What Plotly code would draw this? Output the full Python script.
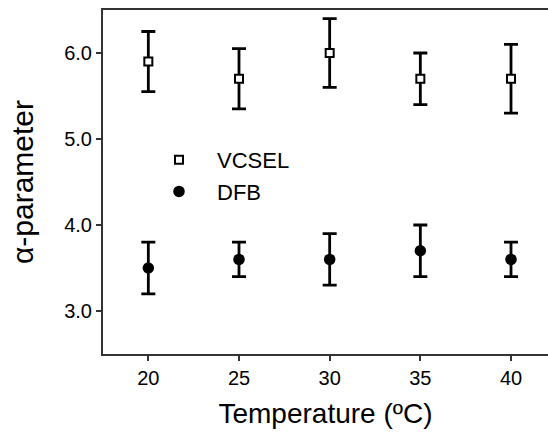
import plotly.graph_objects as go

temps = [20, 25, 30, 35, 40]
vcsel = [5.9, 5.7, 6.0, 5.7, 5.7]
vcsel_hi = [6.25, 6.05, 6.4, 6.0, 6.1]
vcsel_lo = [5.55, 5.35, 5.6, 5.4, 5.3]
dfb = [3.5, 3.6, 3.6, 3.7, 3.6]
dfb_hi = [3.8, 3.8, 3.9, 4.0, 3.8]
dfb_lo = [3.2, 3.4, 3.3, 3.4, 3.4]

FONT = "Liberation Sans, Arial, sans-serif"

def err(v, hi, lo):
    return dict(type="data", symmetric=False,
                array=[h - x for h, x in zip(hi, v)],
                arrayminus=[x - l for l, x in zip(lo, v)],
                color="black", thickness=2.8, width=7)

fig = go.Figure()
fig.add_trace(go.Scatter(
    x=temps, y=vcsel, mode="markers", name="VCSEL",
    marker=dict(symbol="square", size=8, color="white",
                line=dict(color="black", width=2)),
    error_y=err(vcsel, vcsel_hi, vcsel_lo)))
fig.add_trace(go.Scatter(
    x=temps, y=dfb, mode="markers", name="DFB",
    marker=dict(symbol="circle", size=11.5, color="black",
                line=dict(color="black", width=0)),
    error_y=err(dfb, dfb_hi, dfb_lo)))

fig.update_layout(
    width=548, height=432,
    margin=dict(l=103, r=0, t=10, b=78, autoexpand=False),
    paper_bgcolor="white", plot_bgcolor="white",
    font=dict(family=FONT, color="black", size=20),
    showlegend=True,
    legend=dict(x=0.0854, y=0.625, xanchor="left", yanchor="top",
                bgcolor="rgba(0,0,0,0)", borderwidth=0,
                font=dict(size=22, family=FONT), itemwidth=66),
    xaxis=dict(range=[17.5, 42.04], tickmode="array", tickvals=temps,
               ticks="outside", ticklen=5, tickwidth=1.5, tickcolor="#333",
               showline=True, linecolor="#333", linewidth=2, mirror=True,
               showgrid=False, zeroline=False, automargin=False,
               tickfont=dict(size=20, family=FONT),
               title=dict(text="Temperature (ºC)", font=dict(size=28, family=FONT), standoff=15)),
    yaxis=dict(range=[2.5, 6.5], dtick=1, tick0=3, tickformat=".1f",
               ticks="outside", ticklen=5, tickwidth=1.5, tickcolor="#333",
               showline=True, linecolor="#333", linewidth=2,
               showgrid=False, zeroline=False, automargin=False,
               tickfont=dict(size=20, family=FONT),
               title=dict(text="α-parameter", font=dict(size=30, family=FONT), standoff=22)),
)

fig.write_html("out.html", config={"displayModeBar": False},
               post_script="document.body.style.margin='0';")
